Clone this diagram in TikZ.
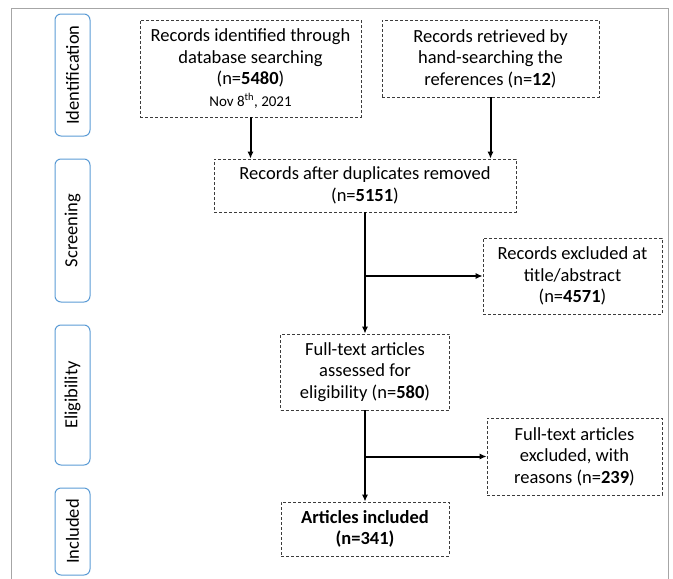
\documentclass[tikz,border=0pt]{standalone}
\usepackage{fontspec}
\setmainfont{Carlito}
\usetikzlibrary{arrows.meta,positioning,calc}
\definecolor{phaseblue}{RGB}{91,155,213}
\definecolor{boxgray}{RGB}{60,60,60}
\tikzset{
  recbox/.style={draw=boxgray, line width=0.6pt, dash pattern=on 3pt off 2pt, align=center, inner sep=0pt,
    font=\fontsize{18.5}{21.5}\selectfont},
  phase/.style={draw=phaseblue, line width=1pt, rounded corners=6pt, rotate=90, inner sep=0pt,
    minimum height=35pt, font=\fontsize{18.5}{21.5}\selectfont},
  flow/.style={-{Latex[length=7pt,width=6pt]}, line width=2pt}
}
\begin{document}
\begin{tikzpicture}[x=1pt,y=-1pt]
        \useasboundingbox (0,0) rectangle (673,579);
        % frame
        \draw[gray!70, line width=0.8pt] (11,579) -- (11,8) -- (668,8) -- (668,579);
        % phases
        \node[phase, minimum width=122pt] (ident) at (72.5,75) {Identification};
        \node[phase, minimum width=143pt] (screen) at (72.5,230.5) {Screening};
        \node[phase, minimum width=140pt] (elig) at (72.5,395) {Eligibility};
        \node[phase, minimum width=87pt] (incl) at (72.5,531.5) {Included};
        % records
        \node[recbox, minimum width=221pt, minimum height=97pt] (db) at (250.5,68.5)
          {Records identified through\\database searching\\(n=\textbf{5480})\\
           {\fontsize{15}{17}\selectfont Nov 8\textsuperscript{th}, 2021}};
        \node[recbox, minimum width=217pt, minimum height=77pt] (hand) at (490.5,58.5)
          {Records retrieved by\\hand-searching the\\references (n=\textbf{12})};
        \node[recbox, minimum width=302pt, minimum height=53pt] (dup) at (365,185.5)
          {Records after duplicates removed\\(n=\textbf{5151})};
        \node[recbox, minimum width=179pt, minimum height=76pt] (excl) at (572.5,276)
          {Records excluded at\\title/abstract\\(n=\textbf{4571})};
        \node[recbox, minimum width=169pt, minimum height=76pt] (full) at (365,372)
          {Full-text articles\\assessed for\\eligibility (n=\textbf{580})};
        \node[recbox, minimum width=175pt, minimum height=77pt] (fexcl) at (574.5,456.5)
          {Full-text articles\\excluded, with\\reasons (n=\textbf{239})};
        \node[recbox, minimum width=168pt, minimum height=54pt] (final) at (365,529)
          {\textbf{Articles included}\\\textbf{(n=341)}};
        % arrows
        \draw[flow] (db.south) -- (db.south |- dup.north);
        \draw[flow] (hand.south) -- (hand.south |- dup.north);
        \draw[flow] (dup.south) -- (full.north);
        \draw[flow] (dup.south |- excl.west) -- (excl.west);
        \draw[flow] (full.south) -- (final.north);
        \draw[flow] (full.south |- fexcl.west) -- (fexcl.west);
\end{tikzpicture}
\end{document}
